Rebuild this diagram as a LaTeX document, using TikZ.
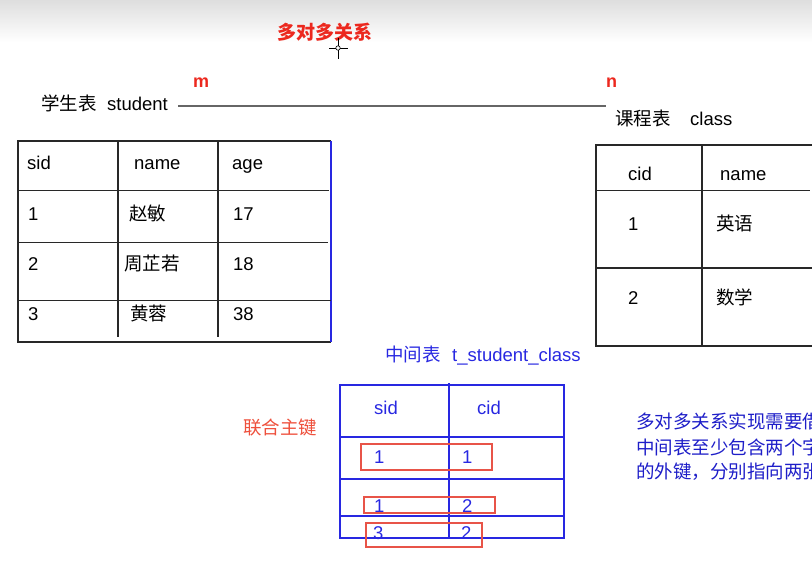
\documentclass[tikz,border=0pt]{standalone}
\usepackage{fontspec}
\setmainfont{Liberation Sans}
\newfontfamily\cjk{Noto Sans CJK SC}
\definecolor{tred}{RGB}{236,40,30}
\definecolor{kred}{RGB}{238,80,60}
\definecolor{bxred}{RGB}{232,84,72}
\definecolor{tblue}{RGB}{40,40,225}
\definecolor{dblue}{RGB}{30,30,200}
\definecolor{tline}{RGB}{40,40,40}
\begin{document}
\begin{tikzpicture}[x=1pt,y=-1pt,
  every node/.style={inner sep=0pt, anchor=base west, font=\fontsize{18.5}{22}\selectfont},
  grid/.style={draw=tline, line width=1.1pt},
  bgrid/.style={draw=tblue, line width=1.1pt},
  keybox/.style={draw=bxred, line width=1.1pt},
  cn/.style={font=\cjk\fontsize{18.5}{22}\selectfont}]
\useasboundingbox (0,0) rectangle (812,583);
\shade[top color=black!13, bottom color=white] (0,0) rectangle (812,42);
% title
\node[cn, text=tred, font=\cjk\bfseries\fontsize{19}{22}\selectfont] (title) at (277,40) {多对多关系};
% cursor
\draw[black, line width=0.8pt] (338,38) -- (338,59) (329,48) -- (348,48);
\draw[black, fill=white, line width=0.6pt] (338,48) circle (2.2);
% relation
\node[text=tred, font=\bfseries\fontsize{18}{22}\selectfont] (m) at (193,88) {m};
\node[text=tred, font=\bfseries\fontsize{18}{22}\selectfont] (n) at (606,88) {n};
\node[cn] (stucn) at (41,110.5) {学生表};
\node (stu) at (107,110.5) {student};
\coordinate (la) at (178,106);
\coordinate (lb) at (606,106);
\draw[draw=black!60, line width=1.6pt] (la) -- (lb);
\node[cn] (clscn) at (615,125.5) {课程表};
\node (cls) at (690,125.5) {class};
% student table
\draw[grid] (331,141) -- (18,141) -- (18,342) -- (331,342);
\draw[draw=tblue, line width=1.1pt] (331,141) -- (331,342);
\draw[grid] (118,141) -- (118,337) (218,141) -- (218,337);
\draw[grid] (18,190.5) -- (329,190.5) (18,242.5) -- (328,242.5) (18,300.5) -- (331,300.5);
\node (s1) at (27,170) {sid};
\node (s2) at (134,170) {name};
\node (s3) at (232,170) {age};
\node (a1) at (28,220.5) {1};
\node[cn] (a2) at (129,220.5) {赵敏};
\node (a3) at (233,220.5) {17};
\node (b1) at (28,270.5) {2};
\node[cn] (b2) at (124,270.5) {周芷若};
\node (b3) at (233,270.5) {18};
\node (c1) at (28,320) {3};
\node[cn] (c2) at (130,320) {黄蓉};
\node (c3) at (233,320) {38};
% class table
\draw[grid] (812,145) -- (596,145) -- (596,346) -- (812,346);
\draw[grid] (702,145) -- (702,347);
\draw[grid] (596,190.5) -- (810,190.5) (596,268) -- (812,268);
\node (k1) at (628,180.5) {cid};
\node (k2) at (720,180.5) {name};
\node (d1) at (628,230.5) {1};
\node[cn] (d2) at (716,230.5) {英语};
\node (e1) at (628,304.5) {2};
\node[cn] (e2) at (716,304.5) {数学};
% middle table
\node[cn, text=tblue] (midcn) at (385,361.5) {中间表};
\node[text=tblue] (mid) at (452,361.5) {t\_student\_class};
\node[cn, text=kred] (key) at (243,434.5) {联合主键};
\draw[bgrid] (340,385) rectangle (564,538);
\draw[bgrid] (449,383) -- (449,538);
\draw[bgrid] (339,437) -- (564,437) (340,479) -- (564,479);
\draw[draw=tblue, line width=1.8pt] (340,516) -- (564,516);
\node[text=tblue] (h1) at (374,414.5) {sid};
\node[text=tblue] (h2) at (477,414.5) {cid};
\node[text=tblue] (r11) at (374,463.5) {1};
\node[text=tblue] (r12) at (462,463.5) {1};
\node[text=tblue] (r21) at (374,512.5) {1};
\node[text=tblue] (r22) at (462,512.5) {2};
\node[text=tblue] (r31) at (373,539.5) {3};
\node[text=tblue] (r32) at (461,539.5) {2};
\draw[keybox] (361,444) rectangle (492,470);
\draw[keybox] (364,497) rectangle (495,513);
\draw[keybox] (366,523) rectangle (482,547);
% note
\node[cn, text=dblue] (t1) at (636,428.5) {多对多关系实现需要借};
\node[cn, text=dblue] (t2) at (636,454.5) {中间表至少包含两个字};
\node[cn, text=dblue] (t3) at (636,478.5) {的外键，分别指向两张};
\end{tikzpicture}
\end{document}
